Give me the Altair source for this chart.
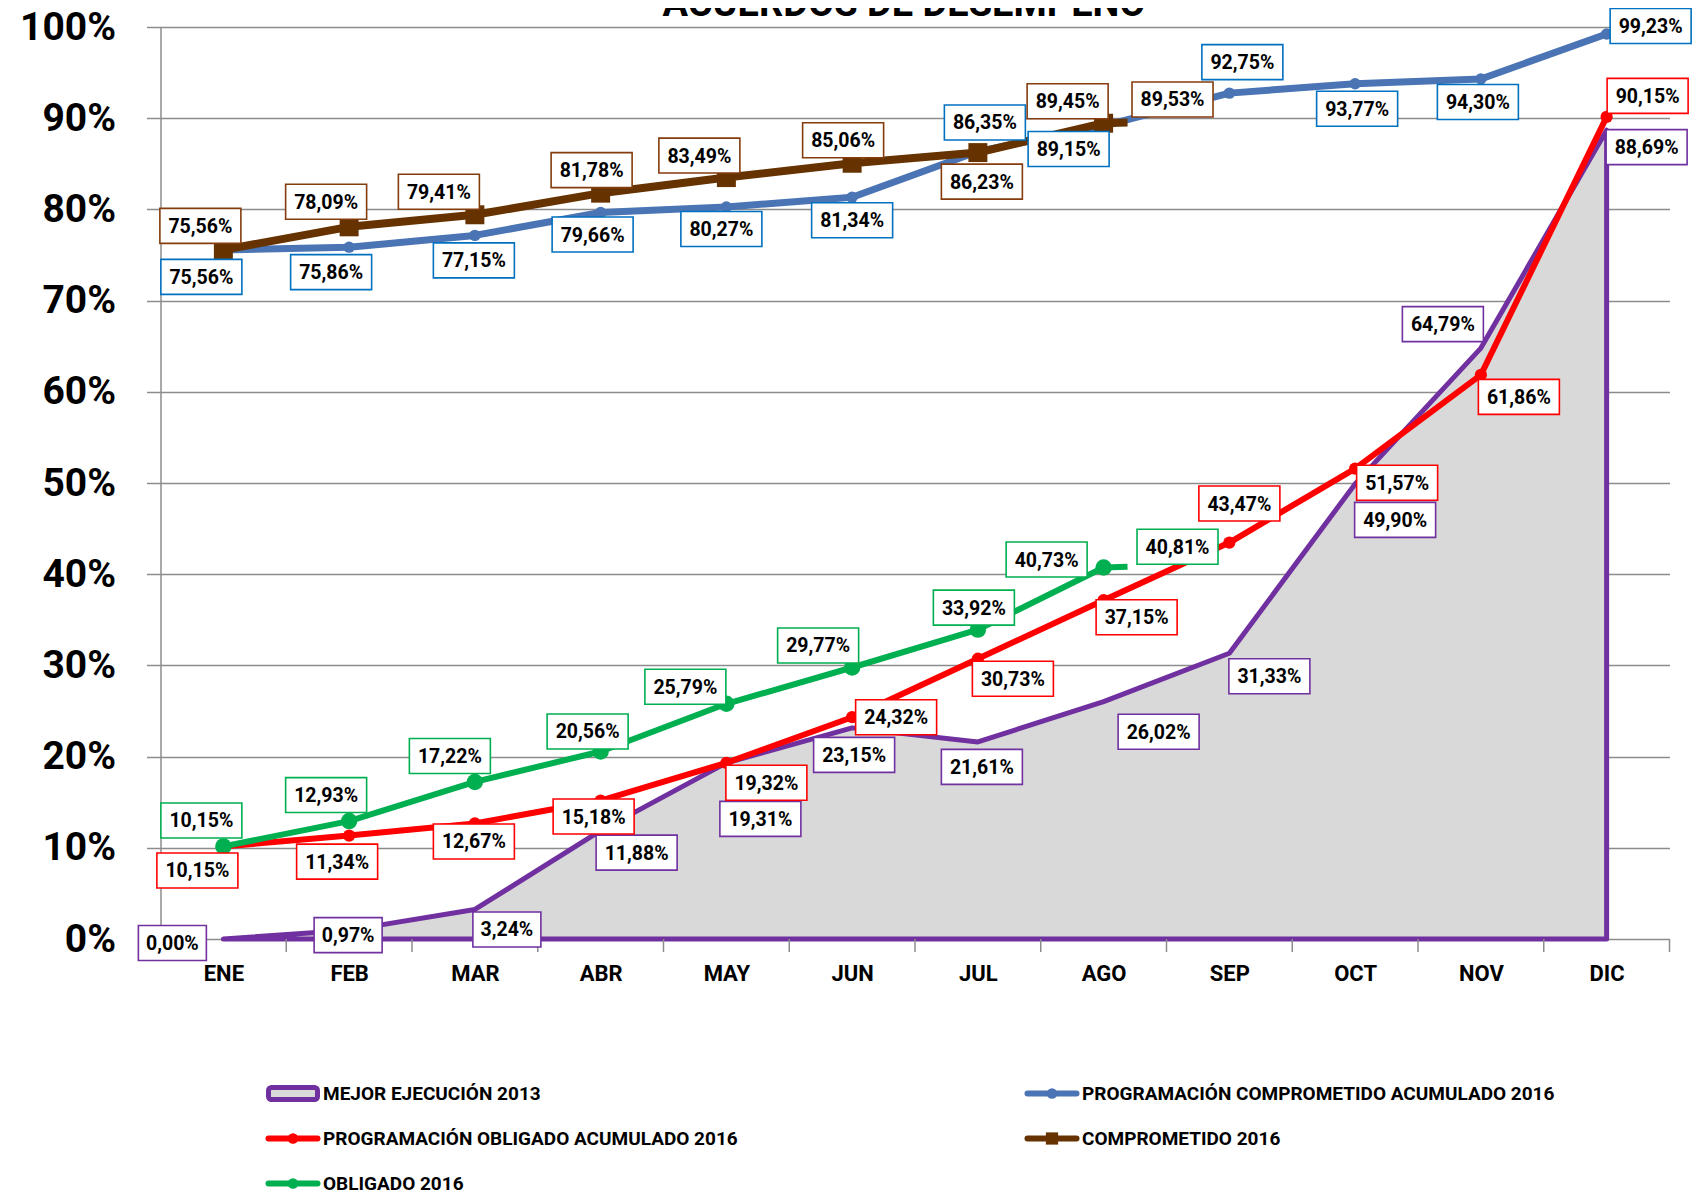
import altair as alt
import pandas as pd

# ---------------- data ----------------
months = ["ENE", "FEB", "MAR", "ABR", "MAY", "JUN", "JUL", "AGO", "SEP", "OCT", "NOV", "DIC"]
month_pos = list(range(12))
mejor_2013 = [0.00, 0.97, 3.24, 11.88, 19.31, 23.15, 21.61, 26.02, 31.33, 49.90, 64.79, 88.69]
prog_comprometido_2016 = [75.56, 75.86, 77.15, 79.66, 80.27, 81.34, 86.35, 89.15, 92.75, 93.77, 94.30, 99.23]
prog_obligado_2016 = [10.15, 11.34, 12.67, 15.18, 19.32, 24.32, 30.73, 37.15, 43.47, 51.57, 61.86, 90.15]
comprometido_2016 = [75.56, 78.09, 79.41, 81.78, 83.49, 85.06, 86.23, 89.45, 89.53]
obligado_2016 = [10.15, 12.93, 17.22, 20.56, 25.79, 29.77, 33.92, 40.73, 40.81]
pos_2016 = [0, 1, 2, 3, 4, 5, 6, 7, 7.19]
y_ticks = [0, 10, 20, 30, 40, 50, 60, 70, 80, 90, 100]
title_text = "ACUERDOS DE DESEMPEÑO"
series_names = [
    "MEJOR EJECUCIÓN 2013",
    "PROGRAMACIÓN COMPROMETIDO ACUMULADO 2016",
    "PROGRAMACIÓN OBLIGADO ACUMULADO 2016",
    "COMPROMETIDO 2016",
    "OBLIGADO 2016",
]

# ---------------- styles ----------------
series_colors = ["#7030A0", "#4A74B4", "#FF0000", "#663300", "#00B050"]
box_colors = ["#7030A0", "#0070C0", "#FF0000", "#843C0C", "#00B050"]
GRID = "#8C8C8C"
FONT = "Roboto"
W, H = 1509, 912

# label offsets in pixels (dx, dy) from each point, per series
label_offsets = {
    series_names[0]: [(-51, 4), (-1, 5), (32, 20), (36, 22), (34, 56), (2, 27), (4, 25), (55, 30), (40, 23), (40, 36), (-38, -24), (40, 17)],
    series_names[1]: [(-22, 27), (-18, 25), (-1, 25), (-8, 22), (-5, 22), (0, 23), (7, -29), (-35, 23), (13, -31), (2, 25), (-3, 23), (44, -8)],
    series_names[2]: [(-26, 24), (-12, 26), (-1, 18), (-7, 16), (40, 20), (44, 0), (35, 20), (33, 17), (10, -39), (42, 14), (38, 22), (41, -21)],
    series_names[3]: [(-23, -24), (-23, -25), (-36, -23), (-9, -23), (-27, -22), (-9, -23), (4, 29), (-36, -22), (45, -23)],
    series_names[4]: [(-22, -26), (-23, -26), (-25, -26), (-13, -20), (-41, -17), (-34, -22), (-4, -22), (-57, -8), (50, -20)],
}

series_data = [
    (series_names[0], month_pos, mejor_2013),
    (series_names[1], month_pos, prog_comprometido_2016),
    (series_names[2], month_pos, prog_obligado_2016),
    (series_names[3], pos_2016, comprometido_2016),
    (series_names[4], pos_2016, obligado_2016),
]

# ---------------- tables ----------------
rows = []
lab_rows = []
for name, poss, vals in series_data:
    for k, (p, v) in enumerate(zip(poss, vals)):
        rows.append({"serie": name, "i": p, "v": v})
        dx, dy = label_offsets[name][k]
        lab_rows.append({"serie": name, "i": p, "v": v, "dx": dx, "dy": dy,
                         "txt": f"{v:.2f}".replace(".", ",") + "%"})
all_df = pd.DataFrame(rows)
lab_df = pd.DataFrame(lab_rows)
tick_df = pd.DataFrame({"i": [p - 0.5 for p in month_pos] + [month_pos[-1] + 0.5]})
legend_df = pd.DataFrame({"serie": series_names, "k": list(range(len(series_names)))})
title_df = pd.DataFrame({"t": [title_text]})

# ---------------- encodings ----------------
month_expr = "[" + ",".join(f"'{m}'" for m in months) + "][datum.value]"
x_scale = alt.Scale(domain=[-0.5, 11.5], nice=False, zero=False)
y_scale = alt.Scale(domain=[0, 100], nice=False)
x_axis = alt.Axis(values=month_pos, labelExpr=month_expr, ticks=False, domain=False, grid=False,
                  labelFont=FONT, labelFontSize=22, labelFontWeight="bold", labelColor="#000000",
                  labelPadding=24, title=None)
y_axis = alt.Axis(values=y_ticks, labelExpr="datum.value + '%'", labelFont=FONT, labelFontSize=39,
                  labelFontWeight="bold", labelColor="#000000", labelPadding=31,
                  tickSize=14, tickColor=GRID, tickWidth=1.5, domainColor=GRID, domainWidth=1.5,
                  grid=True, gridColor=GRID, gridWidth=1.5, title=None)


def X(field="i"):
    return alt.X(f"{field}:Q", scale=x_scale, axis=x_axis, title=None)


def Y(field="v"):
    return alt.Y(f"{field}:Q", scale=y_scale, axis=y_axis, title=None)


color_enc = alt.Color("serie:N", scale=alt.Scale(domain=series_names, range=series_colors), legend=None)

base = alt.Chart(all_df)

area = base.transform_filter(alt.datum.serie == series_names[0]).mark_area(
    fill="#D9D9D9", stroke="#7030A0", strokeWidth=5, strokeJoin="round"
).encode(x=X(), y=Y())

ticks = alt.Chart(tick_df).mark_rule(color=GRID, strokeWidth=1.5).encode(
    x=X(), y=alt.value(H), y2=alt.value(H + 13))

line_styles = {
    series_names[1]: dict(width=7, shape="circle", size=130),
    series_names[2]: dict(width=6, shape="circle", size=150),
    series_names[3]: dict(width=8, shape="square", size=360),
    series_names[4]: dict(width=6, shape="circle", size=270),
}

layers = [area, ticks]
for idx, name in enumerate(series_names[1:], start=1):
    st = line_styles[name]
    sub = base.transform_filter(alt.datum.serie == name)
    layers.append(sub.mark_line(strokeWidth=st["width"], strokeJoin="round").encode(
        x=X(), y=Y(), color=color_enc, order="i:Q"))
    layers.append(sub.transform_filter("datum.i == floor(datum.i)").mark_point(
        filled=True, shape=st["shape"], size=st["size"], color=series_colors[idx], opacity=1
    ).encode(x=X(), y=Y()))

# data labels: boxes + text, offset in pixel space through the scales
lab = alt.Chart(lab_df).transform_calculate(
    lx=f"datum.i + datum.dx * 12 / {W}",
    ly=f"datum.v - datum.dy * 100 / {H}",
    n="length(datum.txt)",
)
stroke_enc = alt.Stroke("serie:N", scale=alt.Scale(domain=series_names, range=box_colors), legend=None)
box6 = lab.transform_filter("datum.n >= 6").mark_point(
    shape="M-1,-0.432H1V0.432H-1Z", size=81 * 81, fill="white", fillOpacity=1, strokeWidth=1.6, opacity=1
).encode(x=X("lx"), y=Y("ly"), stroke=stroke_enc)
box5 = lab.transform_filter("datum.n < 6").mark_point(
    shape="M-1,-0.515H1V0.515H-1Z", size=68 * 68, fill="white", fillOpacity=1, strokeWidth=1.6, opacity=1
).encode(x=X("lx"), y=Y("ly"), stroke=stroke_enc)
texts = lab.mark_text(font=FONT, fontSize=19.5, fontWeight="bold", color="#000000",
                      align="center", baseline="middle", dy=1).encode(x=X("lx"), y=Y("ly"), text="txt:N")
layers += [box6, box5, texts]

# ---------------- hand-built legend (2 columns, below the plot) ----------------
leg = alt.Chart(legend_df).transform_calculate(
    col="datum.k % 2", row="floor(datum.k / 2)",
    sx="105.5 + datum.col * 759", sy="1066.5 + datum.row * 45",
    sm="datum.sx + 27", tx="datum.sx + 57",
    sa="datum.sx + 2.5", sa2="datum.sx + 51.5", sya="datum.sy - 6", sya2="datum.sy + 6",
)
px = lambda f: alt.X(f"{f}:Q", scale=None, axis=None)
py = lambda f: alt.Y(f"{f}:Q", scale=None, axis=None)
leg_area = leg.transform_filter("datum.k == 0").mark_rect(
    fill="#D9D9D9", stroke="#7030A0", strokeWidth=5, cornerRadius=3
).encode(x=px("sa"), x2="sa2:Q", y=py("sya"), y2="sya2:Q")
leg_line = leg.transform_filter("datum.k > 0").mark_rule(strokeWidth=6, strokeCap="round").encode(
    x=px("sa"), x2="sa2:Q", y=py("sy"), color=color_enc)
leg_circ = leg.transform_filter("datum.k > 0 && datum.k != 3").mark_point(
    filled=True, shape="circle", size=110, opacity=1).encode(x=px("sm"), y=py("sy"), color=color_enc)
leg_sq = leg.transform_filter("datum.k == 3").mark_point(
    filled=True, shape="square", size=150, opacity=1).encode(x=px("sm"), y=py("sy"), color=color_enc)
leg_txt = leg.mark_text(font=FONT, fontSize=19, fontWeight="bold", color="#000000",
                        align="left", baseline="middle").encode(x=px("tx"), y=py("sy"), text="serie:N")
layers += [leg_area, leg_line, leg_circ, leg_sq, leg_txt]

# title, partly above the top edge as in the reference
title = alt.Chart(title_df).mark_text(
    font=FONT, fontSize=38, fontWeight="bold", color="#000000", align="center", baseline="alphabetic"
).encode(x=alt.value(W / 2 - 11), y=alt.value(-11), text="t:N")
layers.append(title)

chart = alt.layer(*layers).properties(
    width=W, height=H,
    padding={"left": 152.5, "top": 19, "right": 23.5, "bottom": 255},
    autosize=alt.AutoSizeParams(type="none"),
).configure_view(stroke=None)

chart.save("out.html", embed_options={"renderer": "svg", "actions": False})
